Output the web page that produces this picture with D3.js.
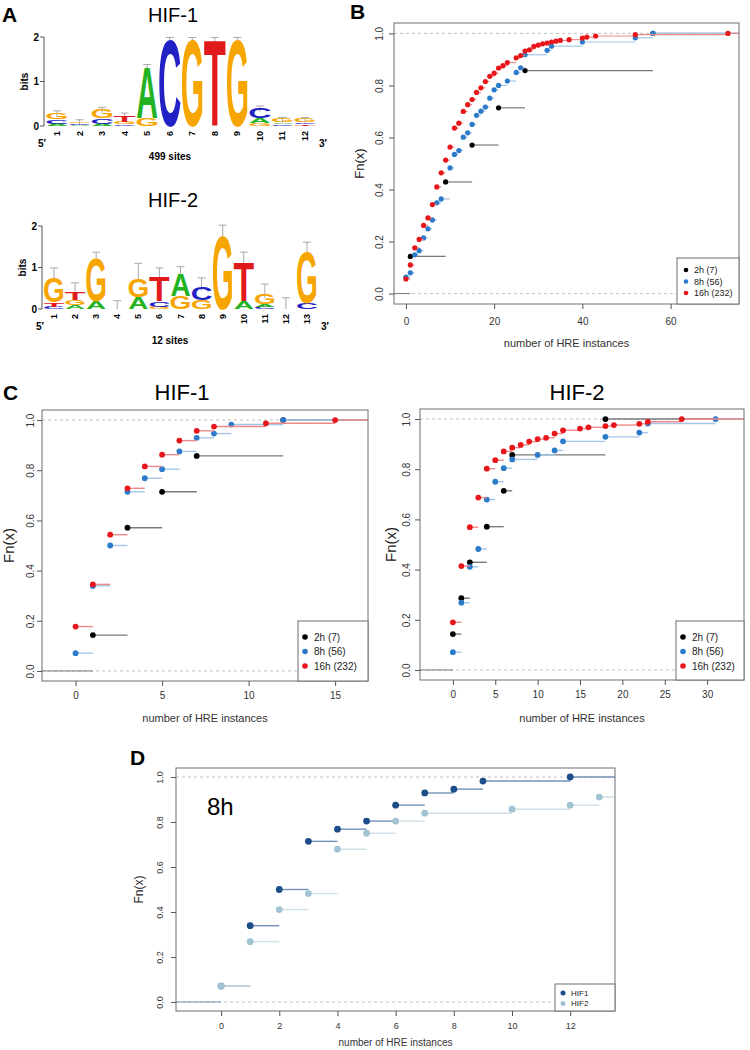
<!DOCTYPE html>
<html>
<head>
<meta charset="utf-8">
<script src="https://cdn.jsdelivr.net/npm/d3@7"></script>
<style>body{margin:0;background:#fff}</style>
</head>
<body>
<div id="canvas"></div>
<script>
// ---- sequence logos: stacks from bottom to top, [letter, bits] ----
var logoHif1 = [
  [["A",0.05],["C",0.1],["G",0.15]],
  [["A",0.03],["C",0.04],["G",0.04]],
  [["A",0.05],["C",0.13],["G",0.2]],
  [["C",0.04],["G",0.05],["T",0.16]],
  [["G",0.18],["A",1.17]],
  [["C",1.96]],
  [["G",1.96]],
  [["T",1.96]],
  [["G",1.96]],
  [["G",0.07],["A",0.12],["C",0.23]],
  [["C",0.04],["A",0.04],["G",0.08]],
  [["T",0.04],["C",0.04],["G",0.08]]
];
var errHif1 = [0.34,0.14,0.42,0.29,1.38,1.99,1.99,1.99,1.99,0.45,0.19,0.19];
var logoHif2 = [
  [["C",0.06],["T",0.1],["G",0.6]],
  [["A",0.1],["G",0.12],["T",0.2]],
  [["A",0.2],["G",1.05]],
  [],
  [["A",0.3],["G",0.45]],
  [["G",0.06],["C",0.14],["T",0.6]],
  [["G",0.32],["A",0.55]],
  [["G",0.22],["C",0.32]],
  [["G",1.8]],
  [["A",0.2],["T",0.95]],
  [["C",0.06],["A",0.06],["G",0.25]],
  [],
  [["C",0.15],["G",1.25]]
];
var errHif2 = [0.99,0.63,1.37,0.2,1.1,0.99,1.02,0.75,2.02,1.37,0.6,0.27,1.61];

// ---- ECDF steps: x = number of HRE instances, f = Fn(x) ----
var seriesNames = ["2h (7)", "8h (56)", "16h (232)"];
var allX2h = [1,9,15,21,27,56];
var allF2h = [0.143,0.429,0.571,0.714,0.857,1];
var allX8h = [0,1,2,3,4,5,6,7,8,10,11,12,13,14,15,16,17,18,19,20,21,23,25,26,27,32,33,40,52,56];
var allF8h = [0.063,0.08,0.149,0.165,0.214,0.249,0.283,0.349,0.364,0.483,0.535,0.55,0.601,0.618,0.65,0.685,0.701,0.717,0.751,0.783,0.8,0.817,0.85,0.868,0.918,0.935,0.951,0.967,0.983,1];
var allX16h = [0,1,2,3,4,5,6,7,8,9,10,11,12,13,14,15,16,17,18,19,20,21,22,23,25,26,27,28,29,30,31,32,33,34,35,37,40,41,43,52,73];
var allF16h = [0.056,0.11,0.176,0.208,0.262,0.291,0.342,0.41,0.464,0.513,0.563,0.636,0.655,0.7,0.726,0.746,0.773,0.791,0.815,0.835,0.847,0.867,0.876,0.888,0.906,0.915,0.932,0.937,0.95,0.955,0.96,0.963,0.967,0.97,0.973,0.976,0.982,0.986,0.99,0.995,1];

var hif1X2h = [1,3,5,7,12];
var hif1F2h = [0.143,0.571,0.714,0.857,1];
var hif1X8h = [0,1,2,3,4,5,6,7,8,9,12];
var hif1F8h = [0.071,0.339,0.5,0.714,0.768,0.804,0.875,0.929,0.946,0.982,1];
var hif1X16h = [0,1,2,3,4,5,6,7,8,11,15];
var hif1F16h = [0.177,0.345,0.543,0.728,0.815,0.862,0.918,0.957,0.974,0.987,1];

var hif2X2h = [0,1,2,4,6,7,18];
var hif2F2h = [0.143,0.286,0.429,0.571,0.714,0.857,1];
var hif2X8h = [0,1,2,3,4,5,6,7,10,12,13,18,22,23,31];
var hif2F8h = [0.071,0.268,0.411,0.482,0.679,0.75,0.804,0.839,0.857,0.875,0.911,0.929,0.946,0.982,1];
var hif2X16h = [0,1,2,3,4,5,6,7,8,9,10,11,12,13,15,16,18,19,22,23,27];
var hif2F16h = [0.19,0.414,0.569,0.687,0.802,0.836,0.871,0.886,0.897,0.91,0.92,0.925,0.942,0.955,0.962,0.967,0.972,0.976,0.981,0.989,1];

var yTicks = [0,0.2,0.4,0.6,0.8,1];

var W = 750, H = 1050;
var FONT = "'Liberation Sans', Arial, sans-serif";
var svg = d3.select("#canvas").append("svg")
  .attr("width", W).attr("height", H)
  .style("font-family", FONT);
svg.append("rect").attr("width", W).attr("height", H).attr("fill", "#fff");
var defs = svg.append("defs");
var clipId = 0;

var letterColor = {A: "#22b222", C: "#2222c4", G: "#f7a500", T: "#e11b1b"};
var letterInk = {A: 0.70, C: 0.65, G: 0.70, T: 0.58};

function drawLogo(o) {
  var g = svg.append("g");
  var n = o.stacks.length;
  var x = d3.scaleLinear().domain([1, n]).range([o.x1, o.xn]);
  var y = d3.scaleLinear().domain([0, 2]).range([o.y0, o.y2]);
  var colW = (o.xn - o.x1) / (n - 1) * 0.93;

  // whiskers behind the letters
  o.stacks.forEach(function(st, i) {
    var tot = d3.sum(st, function(d) { return d[1]; });
    var cx = x(i + 1);
    g.append("line").attr("x1", cx).attr("x2", cx)
      .attr("y1", y(Math.max(0, tot - 0.1))).attr("y2", y(o.err[i]))
      .attr("stroke", "#a8a8a8").attr("stroke-width", 1);
    g.append("line").attr("x1", cx - 4).attr("x2", cx + 4)
      .attr("y1", y(o.err[i])).attr("y2", y(o.err[i]))
      .attr("stroke", "#a8a8a8").attr("stroke-width", 1);
  });

  // letters drawn as paths-like scaled glyphs
  o.stacks.forEach(function(st, i) {
    var base = 0, cx = x(i + 1);
    st.forEach(function(d) {
      var h = y(base) - y(base + d[1]);
      var fs = 100;
      g.append("text").text(d[0])
        .attr("font-size", fs).attr("font-weight", "bold")
        .attr("text-anchor", "middle")
        .attr("fill", letterColor[d[0]])
        .attr("transform", "translate(" + cx + "," + y(base) + ") scale(" +
              (colW / (letterInk[d[0]] * fs)) + "," + (h / (0.716 * fs)) + ")");
      base += d[1];
    });
  });

  // axis
  g.append("line").attr("x1", o.axisX).attr("x2", o.axisX)
    .attr("y1", y(0)).attr("y2", y(2)).attr("stroke", "#555");
  [0, 1, 2].forEach(function(t) {
    g.append("line").attr("x1", o.axisX - 4).attr("x2", o.axisX)
      .attr("y1", y(t)).attr("y2", y(t)).attr("stroke", "#555");
    g.append("text").attr("x", o.axisX - 5).attr("y", y(t)).attr("dy", "0.35em")
      .attr("text-anchor", "end").attr("font-size", 10).attr("font-weight", "bold")
      .text(t);
  });
  g.append("text").attr("transform", "translate(" + (o.axisX - 16) + "," + y(1) + ") rotate(-90)")
    .attr("text-anchor", "middle").attr("font-size", 10).attr("font-weight", "bold").text("bits");

  // position labels
  o.stacks.forEach(function(st, i) {
    g.append("text").attr("transform", "translate(" + (x(i + 1) + 3) + "," + (o.y0 + 5) + ") rotate(-90)")
      .attr("text-anchor", "end").attr("font-size", 9).attr("font-weight", "bold").text(i + 1);
  });
  g.append("text").attr("x", o.axisX - 6).attr("y", o.y0 + 21).attr("font-size", 10)
    .attr("font-weight", "bold").text("5\u2032");
  g.append("text").attr("x", x(n) + 14).attr("y", o.y0 + 21).attr("font-size", 10)
    .attr("font-weight", "bold").text("3\u2032");

  g.append("text").attr("x", o.titleX).attr("y", o.titleY).attr("text-anchor", "middle")
    .attr("font-size", 20).text(o.title);
  g.append("text").attr("x", o.titleX - 3).attr("y", o.sitesY).attr("text-anchor", "middle")
    .attr("font-size", 10).attr("font-weight", "bold").text(o.sites);
}

function ecdfPanel(o) {
  var g = svg.append("g");
  var x = d3.scaleLinear().domain(o.xDomain).range([o.left, o.right]);
  var y = d3.scaleLinear().domain([-0.04, 1.04]).range([o.bottom, o.top]);

  var cid = "clip" + (clipId++);
  defs.append("clipPath").attr("id", cid).append("rect")
    .attr("x", o.left).attr("y", o.top)
    .attr("width", o.right - o.left).attr("height", o.bottom - o.top);
  var plot = g.append("g").attr("clip-path", "url(#" + cid + ")");

  plot.selectAll(".ref").data([0, 1]).enter().append("line")
    .attr("x1", o.left).attr("x2", o.right)
    .attr("y1", function(d) { return y(d); }).attr("y2", function(d) { return y(d); })
    .attr("stroke", "#c2c2c2").attr("stroke-width", 1).attr("stroke-dasharray", "3,3");

  var s0 = o.series[0];
  plot.append("line").attr("x1", o.left).attr("x2", x(s0.x[0]))
    .attr("y1", y(0)).attr("y2", y(0)).attr("stroke", s0.seg).attr("stroke-width", 1);

  o.series.forEach(function(s) {
    var steps = s.x.map(function(v, i) {
      return {x0: v, x1: i < s.x.length - 1 ? s.x[i + 1] : o.xDomain[1], f: s.f[i]};
    });
    plot.append("g").selectAll("line").data(steps).enter().append("line")
      .attr("x1", function(d) { return x(d.x0); })
      .attr("x2", function(d) { return x(d.x1); })
      .attr("y1", function(d) { return y(d.f); })
      .attr("y2", function(d) { return y(d.f); })
      .attr("stroke", s.seg).attr("stroke-width", o.segW);
    plot.append("g").selectAll("circle").data(steps).enter().append("circle")
      .attr("cx", function(d) { return x(d.x0); })
      .attr("cy", function(d) { return y(d.f); })
      .attr("r", o.r).attr("fill", s.color);
  });

  g.append("rect").attr("x", o.left).attr("y", o.top)
    .attr("width", o.right - o.left).attr("height", o.bottom - o.top)
    .attr("fill", "none").attr("stroke", "#6e6e6e");

  var xa = g.append("g").attr("transform", "translate(0," + o.bottom + ")")
    .call(d3.axisBottom(x).tickValues(o.xTicks).tickSize(5).tickPadding(o.xPad).tickFormat(d3.format("d")));
  xa.select(".domain").remove();
  xa.selectAll(".tick line").attr("stroke", "#555");
  xa.selectAll(".tick text").attr("font-size", o.tickFs).attr("fill", "#333").attr("font-family", FONT);

  var ya = g.append("g").attr("transform", "translate(" + o.left + ",0)")
    .call(d3.axisLeft(y).tickValues(yTicks).tickSize(5).tickFormat(d3.format(".1f")));
  ya.select(".domain").remove();
  ya.selectAll(".tick line").attr("stroke", "#555");
  ya.selectAll(".tick text")
    .attr("transform", "rotate(-90)").attr("x", 0).attr("y", -o.yPad).attr("dy", 0)
    .attr("text-anchor", "middle")
    .attr("font-size", o.tickFs).attr("fill", "#333").attr("font-family", FONT);

  g.append("text").attr("x", (o.left + o.right) / 2).attr("y", o.xLabelY)
    .attr("text-anchor", "middle").attr("font-size", o.labFs).attr("fill", "#333")
    .text("number of HRE instances");
  g.append("text").attr("transform", "translate(" + o.yLabelX + "," + ((o.top + o.bottom) / 2) + ") rotate(-90)")
    .attr("text-anchor", "middle").attr("font-size", o.yLabFs).attr("fill", "#222")
    .text("Fn(x)");

  var L = o.legend;
  var lg = g.append("g");
  lg.append("rect").attr("x", L.x).attr("y", L.y)
    .attr("width", o.right - L.x).attr("height", o.bottom - L.y)
    .attr("fill", "#fff").attr("stroke", "#6e6e6e");
  o.series.forEach(function(s, i) {
    var cy = L.y + L.first + i * L.step;
    lg.append("circle").attr("cx", L.x + L.dotDx).attr("cy", cy).attr("r", L.r).attr("fill", s.color);
    lg.append("text").attr("x", L.x + L.textDx).attr("y", cy).attr("dy", "0.35em")
      .attr("font-size", L.fs).attr("fill", "#222").text(s.name);
  });
  return g;
}

var cBlack = "#000000", cBlue = "#2b7bca", cRed = "#e8161b";
var sBlack = "#7a7a7a", sBlue = "#a3c6e8", sRed = "#ef8a8a";

function threeSeries(x2, f2, x8, f8, x16, f16) {
  return [
    {name: seriesNames[0], x: x2, f: f2, color: cBlack, seg: sBlack},
    {name: seriesNames[1], x: x8, f: f8, color: cBlue, seg: sBlue},
    {name: seriesNames[2], x: x16, f: f16, color: cRed, seg: sRed}
  ];
}

// ---- panel A ----
drawLogo({stacks: logoHif1, err: errHif1, x1: 57, xn: 305, y0: 126, y2: 37, axisX: 44,
  title: "HIF-1", titleX: 173, titleY: 22, sites: "499 sites", sitesY: 160});
drawLogo({stacks: logoHif2, err: errHif2, x1: 54, xn: 307, y0: 309, y2: 226, axisX: 42,
  title: "HIF-2", titleX: 173, titleY: 207, sites: "12 sites", sitesY: 344});

// ---- panel B ----
ecdfPanel({left: 394, right: 739, top: 23, bottom: 304, xDomain: [-2.7, 75.5], xTicks: [0, 20, 40, 60],
  series: threeSeries(allX2h, allF2h, allX8h, allF8h, allX16h, allF16h),
  r: 2.6, segW: 1.2, tickFs: 10, labFs: 11, yLabFs: 13, xPad: 9, yPad: 11,
  xLabelY: 347, yLabelX: 364,
  legend: {x: 677, y: 258, first: 12, step: 11.5, dotDx: 9, textDx: 17, fs: 9, r: 2.3}});

// ---- panel C ----
ecdfPanel({left: 42, right: 368, top: 410, bottom: 681, xDomain: [-1.94, 16.9], xTicks: [0, 5, 10, 15],
  series: threeSeries(hif1X2h, hif1F2h, hif1X8h, hif1F8h, hif1X16h, hif1F16h),
  r: 2.9, segW: 1.4, tickFs: 10, labFs: 11, yLabFs: 15, xPad: 6, yPad: 8,
  xLabelY: 722, yLabelX: 14,
  legend: {x: 298, y: 621, first: 16, step: 14.5, dotDx: 7, textDx: 16, fs: 10, r: 2.8}});
ecdfPanel({left: 420, right: 744, top: 409, bottom: 680, xDomain: [-3.88, 34.35], xTicks: [0, 5, 10, 15, 20, 25, 30],
  series: threeSeries(hif2X2h, hif2F2h, hif2X8h, hif2F8h, hif2X16h, hif2F16h),
  r: 2.9, segW: 1.4, tickFs: 10, labFs: 11, yLabFs: 15, xPad: 6, yPad: 10,
  xLabelY: 722, yLabelX: 396,
  legend: {x: 676, y: 621, first: 16, step: 14.5, dotDx: 7, textDx: 16, fs: 10, r: 2.8}});

// ---- panel D ----
ecdfPanel({left: 176, right: 615, top: 768, bottom: 1011, xDomain: [-1.55, 13.54], xTicks: [0, 2, 4, 6, 8, 10, 12],
  series: [
    {name: "HIF1", x: hif1X8h, f: hif1F8h, color: "#1c4f8a", seg: "#7391b8"},
    {name: "HIF2", x: hif2X8h, f: hif2F8h, color: "#a2c4d2", seg: "#cfe0e8"}
  ],
  r: 3.4, segW: 1.4, tickFs: 9, labFs: 10, yLabFs: 12, xPad: 7, yPad: 13,
  xLabelY: 1046, yLabelX: 143,
  legend: {x: 555, y: 984, first: 9, step: 10.5, dotDx: 8, textDx: 16, fs: 8, r: 2.5}});

// ---- titles and panel letters ----
svg.append("text").attr("x", 182).attr("y", 400).attr("text-anchor", "middle")
  .attr("font-size", 22).text("HIF-1");
svg.append("text").attr("x", 577).attr("y", 400).attr("text-anchor", "middle")
  .attr("font-size", 22).text("HIF-2");
svg.append("text").attr("x", 207).attr("y", 815).attr("font-size", 24).text("8h");

var panelLetters = [["A", 2, 22], ["B", 350, 19], ["C", 3, 400], ["D", 130, 765]];
svg.selectAll(".plab").data(panelLetters).enter().append("text")
  .attr("x", function(d) { return d[1]; }).attr("y", function(d) { return d[2]; })
  .attr("font-size", 21).attr("font-weight", "bold").text(function(d) { return d[0]; });
</script>
</body>
</html>
